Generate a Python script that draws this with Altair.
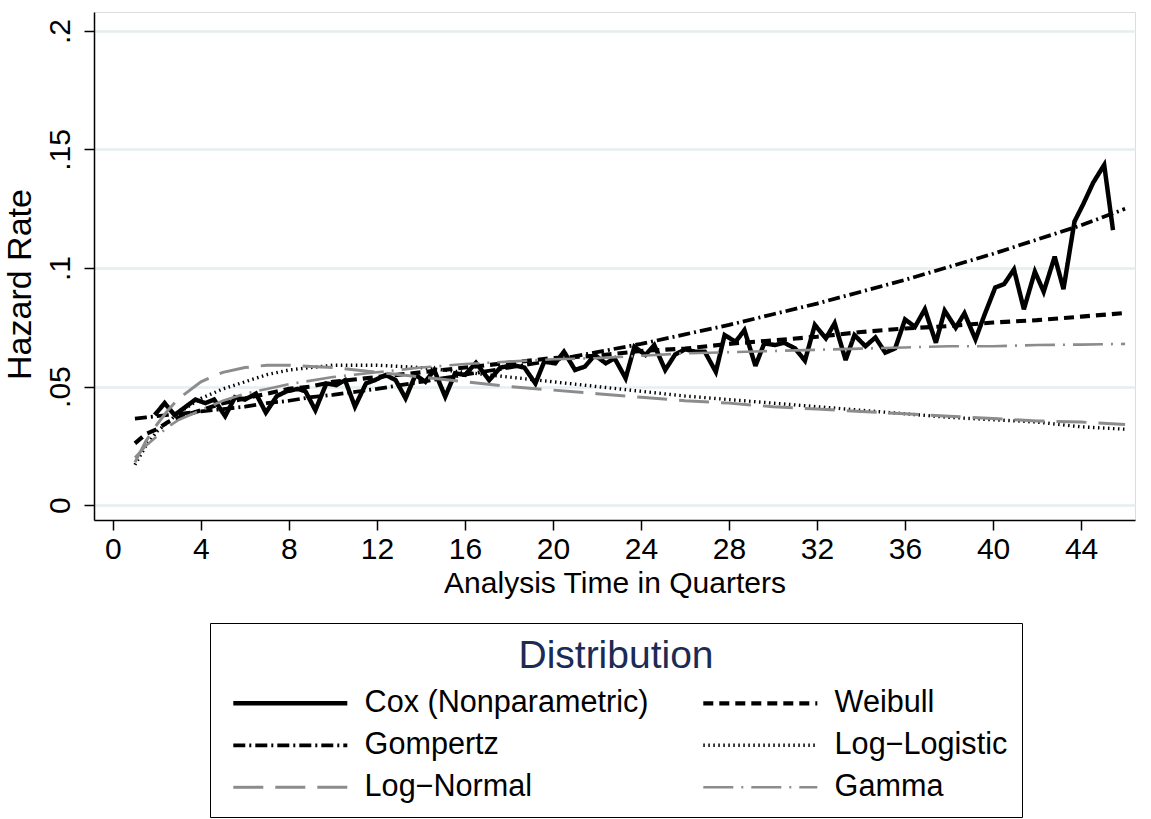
import altair as alt
import pandas as pd

# ---------------- data ----------------
cox_t = [1.9, 2.35, 2.8, 3.75, 4.2, 4.6, 5.1, 5.55, 6.0, 6.5, 6.95, 7.45, 7.9, 8.4, 8.75,
         9.2, 9.7, 10.15, 10.55, 11.0, 11.5, 11.9, 12.4, 12.85, 13.3, 13.75, 14.2, 14.6,
         15.1, 15.55, 16.0, 16.5, 17.1, 17.6, 18.2, 18.7, 19.2, 19.6, 20.1, 20.5, 21.0,
         21.45, 21.9, 22.4, 22.8, 23.3, 23.7, 24.2, 24.6, 25.1, 25.55, 26.0, 26.45, 26.9,
         27.4, 27.8, 28.3, 28.7, 29.2, 29.6, 30.1, 30.5, 31.0, 31.45, 31.9, 32.4, 32.8,
         33.3, 33.7, 34.2, 34.65, 35.1, 35.55, 36.0, 36.45, 36.9, 37.4, 37.8, 38.3, 38.7,
         39.2, 39.6, 40.1, 40.5, 40.95, 41.4, 41.9, 42.3, 42.8, 43.2, 43.7, 44.1, 44.55,
         45.05, 45.45]
cox_h = [0.038, 0.043, 0.038, 0.0445, 0.043, 0.0445, 0.0375, 0.0455, 0.0445, 0.047, 0.039,
         0.046, 0.048, 0.049, 0.048, 0.040, 0.0513, 0.0506, 0.0527, 0.0415, 0.0513, 0.0527,
         0.0549, 0.0527, 0.045, 0.0549, 0.052, 0.057, 0.0457, 0.0556, 0.0549, 0.060, 0.0527,
         0.058, 0.059, 0.058, 0.0513, 0.0605, 0.0598, 0.0647, 0.057, 0.0584, 0.0633, 0.0598,
         0.0619, 0.0535, 0.0668, 0.0633, 0.0675, 0.057, 0.0635, 0.0657, 0.0647, 0.0647,
         0.0562, 0.0717, 0.0689, 0.0738, 0.0587, 0.0682, 0.0675, 0.0685, 0.0661, 0.0609,
         0.076, 0.0703, 0.0767, 0.0612, 0.0717, 0.067, 0.0707, 0.0643, 0.0661, 0.0783,
         0.0752, 0.0826, 0.0685, 0.082, 0.0748, 0.0809, 0.0699, 0.080, 0.0918, 0.0932,
         0.0994, 0.0826, 0.0985, 0.090, 0.1048, 0.0911, 0.1196, 0.127, 0.136, 0.1435, 0.116]

fit_t = [1, 1.5, 2, 2.5, 3, 4, 5, 6, 7, 8, 9, 10, 12, 14, 16, 18, 20, 22, 24, 26, 28, 30,
         32, 34, 36, 38, 40, 42, 44, 46]
weibull_h = [0.026, 0.030, 0.032, 0.035, 0.037, 0.040, 0.043, 0.045, 0.047, 0.049, 0.050,
             0.052, 0.054, 0.056, 0.058, 0.060, 0.062, 0.063, 0.065, 0.066, 0.068, 0.0695,
             0.071, 0.073, 0.0745, 0.0755, 0.077, 0.078, 0.0795, 0.081]
gompertz_h = [0.0365, 0.037, 0.0375, 0.038, 0.0385, 0.0395, 0.0405, 0.0415, 0.043, 0.044,
              0.0455, 0.0465, 0.049, 0.052, 0.055, 0.058, 0.061, 0.0645, 0.068, 0.072,
              0.076, 0.0805, 0.085, 0.090, 0.095, 0.1005, 0.106, 0.112, 0.118, 0.125]
loglogistic_h = [0.017, 0.025, 0.031, 0.035, 0.039, 0.045, 0.049, 0.052, 0.055, 0.057,
                 0.058, 0.059, 0.059, 0.058, 0.056, 0.054, 0.052, 0.050, 0.048, 0.046,
                 0.0445, 0.043, 0.0415, 0.040, 0.0385, 0.037, 0.036, 0.035, 0.033, 0.032]
lognormal_h = [0.018, 0.027, 0.034, 0.040, 0.045, 0.052, 0.056, 0.058, 0.059, 0.059,
               0.0585, 0.058, 0.056, 0.054, 0.052, 0.050, 0.0485, 0.047, 0.0455, 0.044,
               0.043, 0.0415, 0.0405, 0.0395, 0.0385, 0.0375, 0.0365, 0.0355, 0.035, 0.034]
gamma_h = [0.020, 0.025, 0.029, 0.033, 0.036, 0.040, 0.044, 0.047, 0.049, 0.051, 0.0525,
           0.054, 0.056, 0.058, 0.0595, 0.0605, 0.0615, 0.062, 0.063, 0.064, 0.0645, 0.065,
           0.0655, 0.066, 0.0665, 0.067, 0.067, 0.0675, 0.0677, 0.068]

names = ["Cox (Nonparametric)", "Weibull", "Gompertz", "Log\u2212Logistic",
         "Log\u2212Normal", "Gamma"]

x_ticks = [0, 4, 8, 12, 16, 20, 24, 28, 32, 36, 40, 44]
y_ticks = [0, 0.05, 0.1, 0.15, 0.2]

# ---------------- build long table ----------------
rows = []
for t, h in zip(cox_t, cox_h):
    rows.append({"t": t, "h": h, "Distribution": names[0]})
for name, vals in zip(names[1:], [weibull_h, gompertz_h, loglogistic_h, lognormal_h, gamma_h]):
    for t, h in zip(fit_t, vals):
        rows.append({"t": t, "h": h, "Distribution": name})
df = pd.DataFrame(rows)

FONT = "Liberation Sans"
GRAY = "#8c8c8c"
colors = ["black", "black", "black", "black", GRAY, GRAY]
dashes = [[1, 0], [10, 6], [12, 4, 2, 4], [1.5, 3.5], [30, 12], [30, 8, 2, 8]]
widths = [4.5, 2.6, 2.6, 2.2, 2.6, 2.6]

legend = alt.Legend(
    orient="none", legendX=116, legendY=611, columns=2, direction="horizontal",
    title="Distribution", titleFont=FONT, titleFontSize=39, titleFontWeight="normal",
    titleColor="#1c2b55", titleAnchor="middle", titlePadding=12, titleLimit=800,
    labelFont=FONT, labelFontSize=30.6, labelColor="black", labelLimit=600,
    symbolType="M-1,0H18", symbolSize=144, labelOffset=110,
    columnPadding=45, rowPadding=11, padding=14,
    strokeColor="black", fillColor="white",
)

chart = alt.Chart(df).mark_line(strokeJoin="miter", strokeMiterLimit=3).encode(
    x=alt.X("t:Q", scale=alt.Scale(domain=[-0.86, 46.45], nice=False, zero=False),
            axis=alt.Axis(values=x_ticks, title="Analysis Time in Quarters",
                          labelFont=FONT, labelFontSize=30, titleFont=FONT, titleFontSize=30,
                          titleFontWeight="normal", titleColor="black", labelColor="black",
                          tickSize=10, tickColor="black", tickWidth=1.5,
                          domainColor="black", domainWidth=1.5, labelPadding=4,
                          titlePadding=4, grid=False, labelFlush=False, labelOverlap=False)),
    y=alt.Y("h:Q", scale=alt.Scale(domain=[-0.0063, 0.208], nice=False, zero=False),
            axis=alt.Axis(values=y_ticks, title="Hazard Rate",
                          labelExpr="datum.value == 0 ? '0' : substring(format(datum.value, '.2~f'), 1)",
                          labelAngle=270, labelAlign="center", labelBaseline="bottom",
                          labelFont=FONT, labelFontSize=30, titleFont=FONT, titleFontSize=34,
                          titleFontWeight="normal", titleColor="black", labelColor="black",
                          tickSize=10, tickColor="black", tickWidth=1.5,
                          domainColor="black", domainWidth=1.5, labelPadding=9,
                          titlePadding=8, titleY=272, grid=True, gridColor="#e6eef0",
                          gridWidth=2.5, labelFlush=False, labelOverlap=False)),
    color=alt.Color("Distribution:N", scale=alt.Scale(domain=names, range=colors),
                    legend=legend, sort=names),
    strokeDash=alt.StrokeDash("Distribution:N", scale=alt.Scale(domain=names, range=dashes),
                              legend=legend, sort=names),
    strokeWidth=alt.StrokeWidth("Distribution:N", scale=alt.Scale(domain=names, range=widths),
                                legend=legend, sort=names),
).properties(
    width=1041, height=508,
    autosize=alt.AutoSizeParams(type="none"),
    padding={"left": 94, "top": 12, "right": 16, "bottom": 299},
).configure_view(stroke=None).configure(background="white")

chart.save("out.html", embed_options={"renderer": "svg", "actions": False})
